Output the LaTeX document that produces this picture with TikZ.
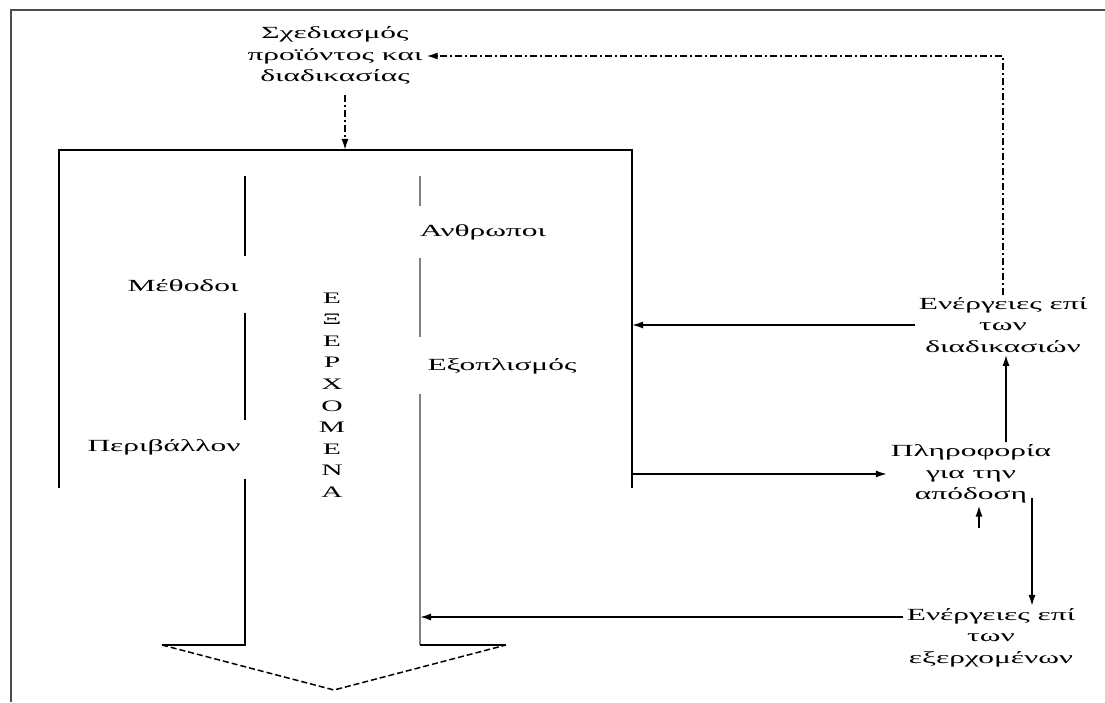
\documentclass[tikz,border=0pt]{standalone}
\usepackage{fontspec}
\setmainfont{Liberation Serif}
\usetikzlibrary{arrows.meta}
\begin{document}
\begin{tikzpicture}[x=1pt,y=1pt,
  txt/.style={font=\fontsize{17}{21.5}\selectfont, align=center, inner sep=2pt, xscale=1.85},
  ln/.style={line width=1.6pt, black},
  gln/.style={line width=1.8pt, black!50},
  arr/.style={line width=1.6pt, -{Latex[length=11pt,width=7pt]}},
  dashdot/.style={line width=1.7pt, dash pattern=on 7pt off 3pt on 2pt off 3pt},
  vdash/.style={line width=1.5pt, dash pattern=on 6pt off 3pt}]
\useasboundingbox (0,0) rectangle (1105,702);
% frame
\draw[line width=2pt, black!70] (1105,692) -- (11,692) -- (11,0);
% text nodes
\node[txt] (plan) at (335,646) {Σχεδιασμός\\προϊόντος και\\διαδικασίας};
\node[txt] (methods) at (183,416) {Μέθοδοι};
\node[txt] (env) at (164,255) {Περιβάλλον};
\node[txt] (people) at (483,470) {Ανθρωποι};
\node[txt] (equip) at (502,336) {Εξοπλισμός};
\node[txt, font=\fontsize{16}{21.6}\selectfont, xscale=1.0] (outs) at (332,307) {Ε\\Ξ\\Ε\\Ρ\\Χ\\Ο\\Μ\\Ε\\Ν\\Α};
\node[txt] (actproc) at (1003,377) {Ενέργειες επί\\των\\διαδικασιών};
\node[txt] (info) at (971,228) {Πληροφορία\\για την\\απόδοση};
\node[txt] (actout) at (991,64.5) {Ενέργειες επί\\των\\εξερχομένων};
% process rectangle
\coordinate (rtl) at (59,552);
\coordinate (rtr) at (632,552);
\coordinate (rbl) at (59,214);
\coordinate (rbr) at (632,214);
\draw[ln] (rbl) -- (rtl) -- (rtr) -- (rbr);
% inner arrow (left line)
\draw[ln] (245,526) -- (245,446);
\draw[ln] (245,389) -- (245,282);
\draw[ln] (245,223) -- (245,57) -- (162,57);
% inner arrow (right line)
\draw[gln] (420,526) -- (420,496);
\draw[gln] (420,444) -- (420,365);
\draw[gln] (420,308) -- (420,57);
\draw[ln] (420,57) -- (506,57);
\coordinate (vl) at (162,57);
\coordinate (vr) at (506,57);
\coordinate (vtip) at (334,12);
\draw[vdash] (vl) -- (vtip) -- (vr);
% connectors
\coordinate (planarr) at (345,607);
\draw[dashdot, -{Latex[length=11pt,width=7pt]}] (planarr) -- (planarr |- rtr);
\draw[dashdot, -{Latex[length=11pt,width=7pt]}] (actproc.north) |- (plan.east);
\draw[arr] (actproc.west) -- (actproc.west -| rtr);
\draw[arr] (info.west -| rtr) -- (info.west);
\coordinate (upx) at (1006,0);
\draw[arr] (info.north -| upx) -- (actproc.south -| upx);
\coordinate (smallup) at (979,174);
\draw[arr] (smallup) -- (info.south -| smallup);
\coordinate (downx) at (1032,204);
\draw[arr] (downx) -- (actout.north -| downx);
\draw[arr] ([yshift=20.5pt]actout.west) -- ([yshift=20.5pt]actout.west -| 420,0);
\end{tikzpicture}
\end{document}
